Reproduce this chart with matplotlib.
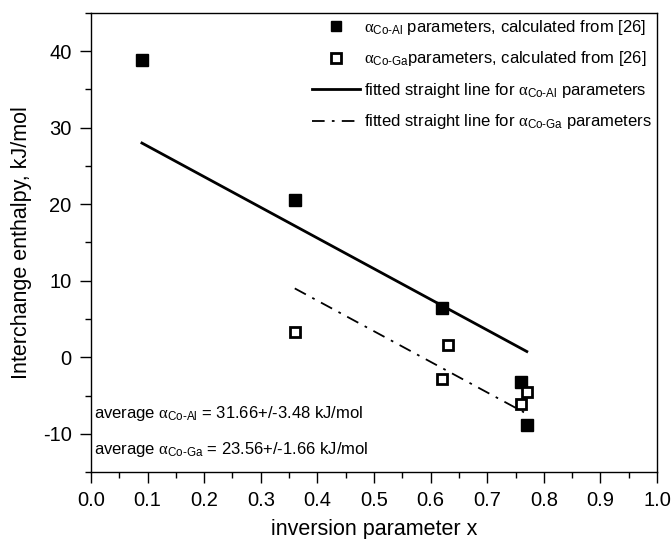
import numpy as np
import matplotlib
matplotlib.use('Agg')
import matplotlib.pyplot as plt
from matplotlib.ticker import MultipleLocator, FormatStrFormatter

plt.rcParams['font.family'] = ['Liberation Sans', 'DejaVu Sans']
plt.rcParams['mathtext.fontset'] = 'custom'
plt.rcParams['mathtext.rm'] = 'Liberation Sans'
plt.rcParams['mathtext.it'] = 'Liberation Serif'
plt.rcParams['axes.unicode_minus'] = False

# alpha Co-Al parameters (filled squares)
x_al = [0.09, 0.36, 0.62, 0.76, 0.77]
y_al = [38.9, 20.6, 6.4, -3.3, -8.9]

# alpha Co-Ga parameters (open squares)
x_ga = [0.36, 0.63, 0.62, 0.77, 0.76]
y_ga = [3.3, 1.6, -2.8, -4.6, -6.1]

# fitted straight lines (end points)
fit_al_x = [0.09, 0.77]
fit_al_y = [28.0, 0.75]
fit_ga_x = [0.36, 0.765]
fit_ga_y = [9.0, -7.2]

lab_al = r'$\alpha_{\text{Co-Al}}$ parameters, calculated from [26]'
lab_ga = r'$\alpha_{\text{Co-Ga}}$parameters, calculated from [26]'
lab_fit_al = r'fitted straight line for $\alpha_{\text{Co-Al}}$ parameters'
lab_fit_ga = r'fitted straight line for $\alpha_{\text{Co-Ga}}$ parameters'

avg_al = r'average $\alpha_{\text{Co-Al}}$ = 31.66+/-3.48 kJ/mol'
avg_ga = r'average $\alpha_{\text{Co-Ga}}$ = 23.56+/-1.66 kJ/mol'


def main():
    fig = plt.figure(figsize=(6.72, 5.39), dpi=100)
    ax = fig.add_axes([0.1354, 0.1243, 0.8423, 0.8516])

    h1, = ax.plot(x_al, y_al, 's', color='black', markersize=8.5, linestyle='none')
    h2, = ax.plot(x_ga, y_ga, 's', markerfacecolor='white', markeredgecolor='black',
                  markeredgewidth=2.0, markersize=7.5, linestyle='none')
    h3, = ax.plot(fit_al_x, fit_al_y, '-', color='black', lw=2)
    h4, = ax.plot(fit_ga_x, fit_ga_y, color='black', lw=1.3, dashes=[7, 4, 1.5, 4])

    ax.set_xlim(0, 1)
    ax.set_ylim(-15, 45)
    ax.xaxis.set_major_locator(MultipleLocator(0.1))
    ax.xaxis.set_minor_locator(MultipleLocator(0.05))
    ax.yaxis.set_minor_locator(MultipleLocator(5))
    ax.set_yticks([-10, 0, 10, 20, 30, 40])
    ax.xaxis.set_major_formatter(FormatStrFormatter('%.1f'))
    ax.tick_params(which='major', direction='out', length=8, width=1, labelsize=14.5, pad=6)
    ax.tick_params(which='minor', direction='out', length=4.5, width=1)
    for s in ax.spines.values():
        s.set_linewidth(1)

    ax.set_xlabel('inversion parameter x', fontsize=15.5, labelpad=6)
    ax.set_ylabel('Interchange enthalpy, kJ/mol', fontsize=15.5, labelpad=8)

    ax.legend([h1, h2, h3, h4], [lab_al, lab_ga, lab_fit_al, lab_fit_ga],
              loc='upper right', frameon=False, fontsize=12,
              handlelength=2.9, handletextpad=0.25, labelspacing=0.75,
              borderaxespad=0.1, borderpad=0.2, markerscale=0.9)

    ax.text(0.005, 0.1285, avg_al, transform=ax.transAxes, fontsize=12, va='center')
    ax.text(0.005, 0.048, avg_ga, transform=ax.transAxes, fontsize=12, va='center')

    fig.savefig('out.png', dpi=100)


if __name__ == '__main__':
    main()
